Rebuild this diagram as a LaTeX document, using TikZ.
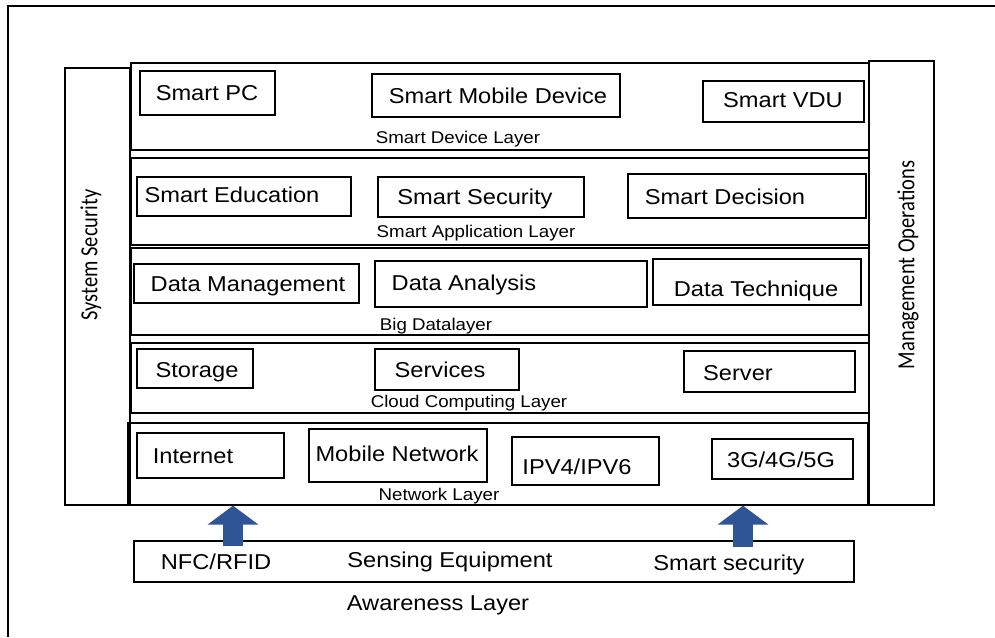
\documentclass[tikz,border=0pt]{standalone}
\usepackage{fontspec}
\setmainfont{Liberation Sans}[FakeStretch=1.1]
\newfontfamily\sidefont{Carlito}
\usetikzlibrary{arrows.meta}
\definecolor{arrowblue}{RGB}{47,85,151}

\tikzset{
  box/.style={draw, line width=1.3pt, inner sep=0pt},
  boxtext/.style={anchor=base, inner sep=0pt, font=\fontsize{21.5}{24}\selectfont},
  layertext/.style={anchor=base, inner sep=0pt, font=\fontsize{17}{19}\selectfont},
  sidetext/.style={rotate=90, inner sep=0pt, font=\sidefont\fontsize{20.5}{23}\selectfont},
  uparrow/.style={line width=20pt, draw=arrowblue, -{Triangle[width=50pt,length=19pt]}}
}

\begin{document}
\begin{tikzpicture}[x=1pt,y=-1pt]
\useasboundingbox (0,0) rectangle (995,637);
\fill[white] (0,0) rectangle (995,637);
% Outer frame
\draw[line width=1.4pt] (8,637) -- (8,6) -- (995,6);
% Side columns
\node[box, minimum width=65pt, minimum height=437pt] (syssec) at (97.5,286.5) {};
\node[sidetext] (syssectext) at (91,255) {\scalebox{1}[1.2]{System Security}};
\node[box, minimum width=65pt, minimum height=444pt] (mgmt) at (901.5,283) {};
\node[sidetext] (mgmttext) at (908,265) {\scalebox{1}[1.2]{Management Operations}};
% Layer 1: Smart Device Layer
\node[box, minimum width=738pt, minimum height=87pt] (device) at (500,106.5) {};
\node[layertext] (devicetext) at (458,143) {Smart Device Layer};
\node[box, minimum width=135pt, minimum height=44pt] (pc) at (207.5,93) {};
\node[boxtext] (pctext) at (207,100) {Smart PC};
\node[box, minimum width=248pt, minimum height=43pt] (mobile) at (496,95.5) {};
\node[boxtext] (mobiletext) at (498,103) {Smart Mobile Device};
\node[box, minimum width=161pt, minimum height=41pt] (vdu) at (783.5,101.5) {};
\node[boxtext] (vdutext) at (783,107) {Smart VDU};
% Layer 2: Smart Application Layer
\node[box, minimum width=738pt, minimum height=87pt] (app) at (500,201.5) {};
\node[layertext] (apptext) at (476,237) {Smart Application Layer};
\node[box, minimum width=214pt, minimum height=39pt] (edu) at (244,196.5) {};
\node[boxtext] (edutext) at (232,202) {Smart Education};
\node[box, minimum width=206pt, minimum height=40pt] (sec) at (481,197) {};
\node[boxtext] (sectext) at (475,204) {Smart Security};
\node[box, minimum width=238pt, minimum height=44pt] (dec) at (747,196) {};
\node[boxtext] (dectext) at (725,204) {Smart Decision};
% Layer 3: Big Data layer
\node[box, minimum width=738pt, minimum height=87pt] (bigdata) at (500,291.5) {};
\node[layertext] (bigdatatext) at (436,330) {Big Datalayer};
\node[box, minimum width=225pt, minimum height=39pt] (dman) at (246.5,283.5) {};
\node[boxtext] (dmantext) at (248,291) {Data Management};
\node[box, minimum width=272pt, minimum height=46pt] (dana) at (511,284) {};
\node[boxtext] (danatext) at (464,290) {Data Analysis};
\node[box, minimum width=208pt, minimum height=46pt] (dtec) at (757,282) {};
\node[boxtext] (dtectext) at (756,296) {Data Technique};
% Layer 4: Cloud Computing Layer
\node[box, minimum width=738pt, minimum height=70pt] (cloud) at (500,378) {};
\node[layertext] (cloudtext) at (469,407) {Cloud Computing Layer};
\node[box, minimum width=116pt, minimum height=39pt] (stor) at (195,368.5) {};
\node[boxtext] (stortext) at (197,377) {Storage};
\node[box, minimum width=144pt, minimum height=41pt] (servi) at (447,369.5) {};
\node[boxtext] (servitext) at (440,377) {Services};
\node[box, minimum width=171pt, minimum height=41pt] (server) at (769.5,371.5) {};
\node[boxtext] (servertext) at (738,380) {Server};
% Layer 5: Network Layer
\node[box, minimum width=740pt, minimum height=82pt] (network) at (498,464) {};
\node[layertext] (networktext) at (439,500) {Network Layer};
\node[box, minimum width=147pt, minimum height=45pt] (inet) at (210.5,455.5) {};
\node[boxtext] (inettext) at (193,463) {Internet};
\node[box, minimum width=178pt, minimum height=53pt] (mnet) at (398,455.5) {};
\node[boxtext] (mnettext) at (397,461) {Mobile Network};
\node[box, minimum width=147pt, minimum height=48pt] (ipv) at (585.5,461) {};
\node[boxtext] (ipvtext) at (577,474) {IPV4/IPV6};
\node[box, minimum width=141pt, minimum height=40pt] (gen) at (782.5,459) {};
\node[boxtext] (gentext) at (781,467) {3G/4G/5G};
% Awareness layer
\node[box, minimum width=720pt, minimum height=41pt] (sensing) at (494,561.5) {};
\node[boxtext] (nfc) at (216,569) {NFC/RFID};
\node[boxtext] (sensingtext) at (450,567) {Sensing Equipment};
\node[boxtext] (smartsec) at (729,570) {Smart security};
\node[boxtext] (aware) at (438,610) {Awareness Layer};
% Arrows up to the network layer
\coordinate (foot1) at (233,546);
\coordinate (foot2) at (743,547);
\draw[uparrow] (foot1) -- (foot1 |- network.south);
\draw[uparrow] (foot2) -- (foot2 |- network.south);
\end{tikzpicture}
\end{document}
